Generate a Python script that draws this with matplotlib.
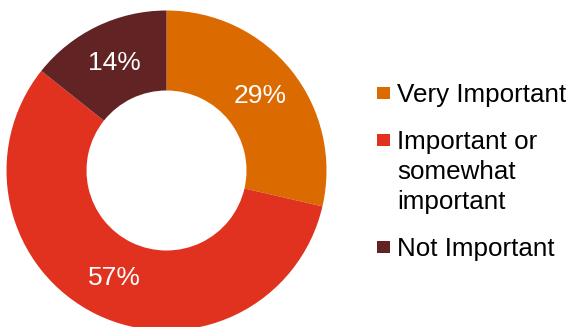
import matplotlib.pyplot as plt
from matplotlib.patches import Rectangle

plt.rcParams['font.family'] = ['Liberation Sans', 'DejaVu Sans']

categories = ['Very Important', 'Important or\nsomewhat\nimportant', 'Not Important']
shares = [28.6, 57.1, 14.3]
colors = ['#DB6A00', '#E0321F', '#612323']

W, H = 572, 327
fig = plt.figure(figsize=(W / 100, H / 100), dpi=100)
ax = fig.add_axes([6.5 / W, -3.5 / H, 320 / W, 320 / H])

wedges, texts, autotexts = ax.pie(
    shares,
    colors=colors,
    startangle=90,
    counterclock=False,
    radius=1,
    autopct='%.0f%%',
    pctdistance=0.745,
    wedgeprops=dict(width=0.5, linewidth=0),
    textprops=dict(color='white', fontsize=19),
)
ax.set_xlim(-1, 1)
ax.set_ylim(-1, 1)

# legend drawn by hand so the square sits next to the first line of each label
line_step = 30      # px between lines of one label
entry_gap = 47      # px from last line of an entry to first line of next
baseline = 102      # px from top, first line
for label, c in zip(categories, colors):
    lines = label.split('\n')
    fig.add_artist(Rectangle((377 / W, 1 - (baseline - 3) / H), 12.5 / W, 12.5 / H,
                             transform=fig.transFigure, facecolor=c, edgecolor='none'))
    for i, ln in enumerate(lines):
        fig.text(397 / W, 1 - (baseline + i * line_step) / H, ln,
                 fontsize=18.7, color='black', ha='left', va='baseline')
    baseline += (len(lines) - 1) * line_step + entry_gap

fig.savefig('out.png', dpi=100)
